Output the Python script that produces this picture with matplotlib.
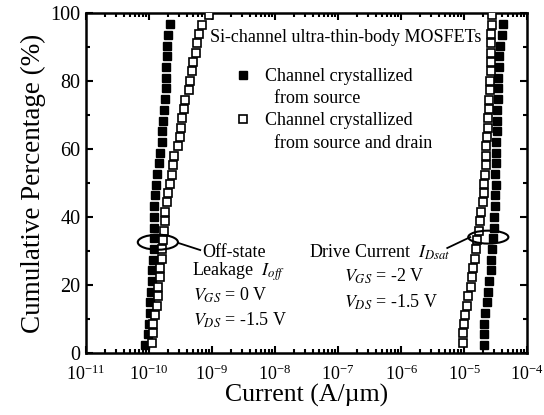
import matplotlib
matplotlib.use("Agg")
import matplotlib.pyplot as plt
from matplotlib.lines import Line2D
from matplotlib.patches import Ellipse
from matplotlib.ticker import LogLocator, MultipleLocator

plt.rcParams['font.family'] = ['Liberation Serif', 'DejaVu Serif']
plt.rcParams['mathtext.fontset'] = 'stix'

# cumulative percentage levels
pct_src = [2.4, 5.5, 8.7, 11.8, 15.0, 18.1, 21.2, 24.4, 27.5, 30.7, 33.8, 36.9, 40.1, 43.2, 46.4, 49.5,
           52.6, 55.8, 58.9, 62.1, 65.2, 68.3, 71.5, 74.6, 77.8, 80.9, 84.0, 87.2, 90.3, 93.5, 96.6]
pct_sd = [3.0, 5.8, 8.5, 11.3, 14.0, 16.8, 19.5, 22.3, 25.0, 27.8, 30.5, 33.3, 36.0, 38.8, 41.5, 44.3, 47.0, 49.8,
          52.5, 55.3, 58.0, 60.8, 63.5, 66.3, 69.0, 71.8, 74.5, 77.3, 80.0, 82.8, 85.5, 88.3, 91.0, 93.8, 96.5, 99.3]

# off-state leakage (A/um)
ioff_src = [8.6e-11, 9.5e-11, 1.0e-10, 1.03e-10, 1.05e-10, 1.08e-10, 1.11e-10, 1.13e-10, 1.17e-10, 1.19e-10,
            1.21e-10, 1.22e-10, 1.21e-10, 1.20e-10, 1.24e-10, 1.30e-10, 1.36e-10, 1.42e-10, 1.52e-10, 1.60e-10,
            1.63e-10, 1.66e-10, 1.72e-10, 1.78e-10, 1.84e-10, 1.86e-10, 1.88e-10, 1.92e-10, 1.95e-10, 1.97e-10,
            2.15e-10]
ioff_sd = [1.12e-10, 1.15e-10, 1.15e-10, 1.26e-10, 1.35e-10, 1.38e-10, 1.38e-10, 1.48e-10, 1.50e-10, 1.62e-10,
           1.62e-10, 1.66e-10, 1.70e-10, 1.78e-10, 1.80e-10, 1.95e-10, 2.0e-10, 2.14e-10, 2.3e-10, 2.4e-10,
           2.45e-10, 2.9e-10, 3.1e-10, 3.2e-10, 3.3e-10, 3.6e-10, 3.7e-10, 4.3e-10, 4.5e-10, 4.8e-10,
           5.0e-10, 5.6e-10, 5.75e-10, 6.2e-10, 6.9e-10, 9.0e-10]

# drive current (A/um)
idsat_src = [2.1e-5, 2.1e-5, 2.1e-5, 2.15e-5, 2.3e-5, 2.38e-5, 2.5e-5, 2.65e-5, 2.7e-5, 2.8e-5,
             2.9e-5, 2.95e-5, 3.0e-5, 3.1e-5, 3.1e-5, 3.2e-5, 3.1e-5, 3.15e-5, 3.24e-5, 3.24e-5,
             3.3e-5, 3.3e-5, 3.3e-5, 3.45e-5, 3.5e-5, 3.5e-5, 3.6e-5, 3.6e-5, 3.7e-5, 4.0e-5, 4.2e-5]
idsat_sd = [9.5e-6, 9.6e-6, 1.0e-5, 1.05e-5, 1.12e-5, 1.17e-5, 1.28e-5, 1.35e-5, 1.40e-5, 1.47e-5,
            1.55e-5, 1.62e-5, 1.72e-5, 1.78e-5, 1.86e-5, 2.0e-5, 2.04e-5, 2.1e-5, 2.14e-5, 2.24e-5,
            2.24e-5, 2.24e-5, 2.35e-5, 2.4e-5, 2.4e-5, 2.5e-5, 2.5e-5, 2.57e-5, 2.57e-5, 2.7e-5,
            2.7e-5, 2.7e-5, 2.7e-5, 2.7e-5, 2.75e-5, 2.75e-5]

legend_labels = ['Channel crystallized', '  from source', 'Channel crystallized', '  from source and drain']

fig = plt.figure(figsize=(5.44, 4.15), dpi=100)
ax = fig.add_axes([0.158, 0.149, 0.811, 0.82])

ms = 5.6
h1, = ax.plot(ioff_src, pct_src, 's', color='black', ms=ms, zorder=3)
ax.plot(idsat_src, pct_src, 's', color='black', ms=ms, zorder=3)
h2, = ax.plot(ioff_sd, pct_sd, 's', mfc='white', mec='black', mew=1.2, ms=ms, zorder=3)
ax.plot(idsat_sd, pct_sd, 's', mfc='white', mec='black', mew=1.2, ms=ms, zorder=3)

ax.set_xscale('log')
ax.set_xlim(1e-11, 1e-4)
ax.set_ylim(0, 100)
ax.xaxis.set_major_locator(LogLocator(base=10, numticks=20))
ax.xaxis.set_minor_locator(LogLocator(base=10, subs=range(2, 10), numticks=20))
ax.yaxis.set_major_locator(MultipleLocator(20))
ax.yaxis.set_minor_locator(MultipleLocator(10))
ax.tick_params(which='both', direction='in', top=True, right=True, width=1.5)
ax.tick_params(which='major', length=5)
ax.tick_params(which='minor', length=3)
ax.tick_params(axis='x', which='major', labelsize=13, pad=8)
ax.tick_params(axis='y', which='major', labelsize=14.5, pad=4)
for s in ax.spines.values():
    s.set_linewidth(1.8)

ax.set_xlabel('Current (A/µm)', fontsize=18.5, labelpad=0)
ax.set_ylabel('Cumulative Percentage (%)', fontsize=19.5, labelpad=3)

# legend: marker sits on the first line of each label
blank = Line2D([], [], linestyle='none')
ax.legend(handles=[h1, blank, h2, blank], labels=legend_labels, loc='upper left',
          bbox_to_anchor=(0.339, 0.838), frameon=False, fontsize=13, handlelength=0.8,
          handletextpad=0.85, labelspacing=0.29, borderpad=0, borderaxespad=0)

fs = 13
ax.text(0.281, 0.929, 'Si-channel ultra-thin-body MOSFETs', transform=ax.transAxes, fontsize=fs, va='center')

# off-state annotation
ax.add_patch(Ellipse((0.163, 0.326), 0.091, 0.044, transform=ax.transAxes, fill=False, lw=1.5, zorder=4))
ax.plot([0.209, 0.259], [0.324, 0.303], transform=ax.transAxes, color='black', lw=1.3)
ax.text(0.263, 0.297, 'Off-state', transform=ax.transAxes, fontsize=fs, va='center')
ax.text(0.240, 0.238, 'Leakage  $I_{off}$', transform=ax.transAxes, fontsize=fs, va='center')
ax.text(0.243, 0.171, '$V_{GS}$ = 0 V', transform=ax.transAxes, fontsize=fs, va='center')
ax.text(0.243, 0.097, '$V_{DS}$ = -1.5 V', transform=ax.transAxes, fontsize=fs, va='center')

# drive current annotation
ax.add_patch(Ellipse((0.912, 0.341), 0.091, 0.038, transform=ax.transAxes, fill=False, lw=1.5, zorder=4))
ax.plot([0.819, 0.871], [0.309, 0.341], transform=ax.transAxes, color='black', lw=1.3)
ax.text(0.506, 0.297, 'Drive Current  $I_{Dsat}$', transform=ax.transAxes, fontsize=fs, va='center')
ax.text(0.585, 0.226, '$V_{GS}$ = -2 V', transform=ax.transAxes, fontsize=fs, va='center')
ax.text(0.585, 0.150, '$V_{DS}$ = -1.5 V', transform=ax.transAxes, fontsize=fs, va='center')

fig.savefig('out.png', dpi=100)
